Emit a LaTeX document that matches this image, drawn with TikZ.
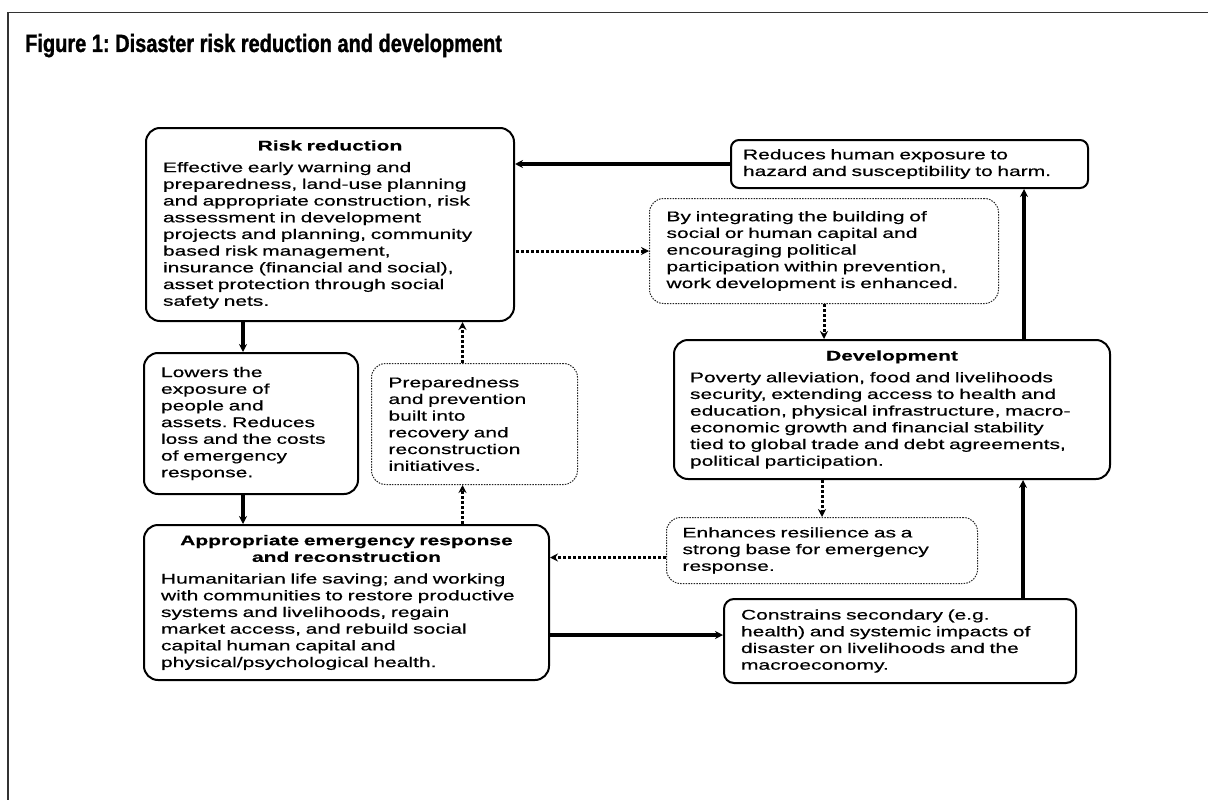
\documentclass[tikz,border=0pt]{standalone}
\usepackage{xcolor}
\usepackage{fontspec}
\usepackage{tikz}
\usetikzlibrary{arrows,arrows.meta}

\newfontfamily\titlefont[FakeStretch=0.8,FakeBold=1.2]{Liberation Sans}
\newfontfamily\boxfont[FakeStretch=1.5,FakeBold=0.5]{Liberation Sans}
\newcommand{\boxtext}{\boxfont\fontsize{14pt}{16.7pt}\selectfont}
\newcommand{\boxhead}[1]{\makebox[\linewidth]{\bfseries #1}}
\frenchspacing

\begin{document}
\begin{tikzpicture}[x=1pt,y=-1pt,>={Stealth[length=8pt,width=8pt]},
  box/.style={draw,line width=2pt,rounded corners=14pt,anchor=north west,
    inner xsep=17pt,inner ysep=0pt,align=left,font=\boxtext},
  dotbox/.style={box,line width=1pt,draw=black!85,dash pattern=on 1.5pt off 1.2pt},
  flow/.style={->,line width=3.2pt},
  dotflow/.style={->,line width=3pt,dash pattern=on 2.6pt off 2.4pt}]
  \useasboundingbox (0,0) rectangle (1208,800);
  \draw[line width=1.4pt,black!80] (1208,12.5) -- (8,12.5) -- (8,800);
  \node[anchor=base west,font=\titlefont\bfseries\fontsize{25pt}{30pt}\selectfont,inner sep=0pt] (title) at (25,52) {Figure 1: Disaster risk reduction and development};

  % left column
  \node[box,text width=334pt,minimum height=193pt] (risk) at (145,127)
    {\boxhead{Risk reduction}\\[5pt]
     Effective early warning and\\
     preparedness, land-use planning\\
     and appropriate construction, risk\\
     assessment in development\\
     projects and planning, community\\
     based risk management,\\
     insurance (financial and social),\\
     asset protection through social\\
     safety nets.};
  \node[box,text width=180pt,minimum height=141pt] (lowers) at (143,352)
    {Lowers the\\ exposure of\\ people and\\ assets. Reduces\\ loss and the costs\\ of emergency\\ response.};
  \node[dotbox,text width=172pt,minimum height=121pt] (prep) at (371,363)
    {Preparedness\\ and prevention\\ built into\\ recovery and\\ reconstruction\\ initiatives.};
  \node[box,text width=371pt,minimum height=155pt] (emerg) at (143,524)
    {\boxhead{Appropriate emergency response}\\
     \boxhead{and reconstruction}\\[5pt]
     Humanitarian life saving; and working\\
     with communities to restore productive\\
     systems and livelihoods, regain\\
     market access, and rebuild social\\
     capital human capital and\\
     physical/psychological health.};

  % right column
  \node[box,rounded corners=8pt,inner xsep=12pt,text width=333pt,minimum height=48pt] (reduce) at (730,139)
    {Reduces human exposure to\\ hazard and susceptibility to harm.};
  \node[dotbox,text width=315pt,minimum height=105pt] (integ) at (649,198)
    {By integrating the building of\\ social or human capital and\\ encouraging political\\ participation within prevention,\\ work development is enhanced.};
  \node[box,inner xsep=16pt,text width=404pt,minimum height=139pt] (dev) at (673,339)
    {\boxhead{Development}\\[5pt]
     Poverty alleviation, food and livelihoods\\
     security, extending access to health and\\
     education, physical infrastructure, macro-\\
     economic growth and financial stability\\
     tied to global trade and debt agreements,\\
     political participation.};
  \node[dotbox,inner xsep=16pt,text width=279pt,minimum height=66pt] (enh) at (666,517)
    {Enhances resilience as a\\ strong base for emergency\\ response.};
  \node[box,rounded corners=10pt,text width=318pt,minimum height=84pt] (cons) at (723,598)
    {Constrains secondary (e.g.\\ health) and systemic impacts of\\ disaster on livelihoods and the\\ macroeconomy.};

  % connectors
  \draw[flow] (reduce.west) -- (reduce.west -| risk.east);
  \draw[dotflow,<-] (integ.west) -- (integ.west -| risk.east);
  \draw[dotflow] (integ.south) -- (integ.south |- dev.north);
  \draw[flow] ([xshift=-87pt]dev.north east) -- ([xshift=-87pt]dev.north east |- reduce.south);
  \draw[dotflow] (enh.north |- dev.south) -- (enh.north);
  \draw[dotflow] ([yshift=-7pt]enh.west) -- ([yshift=-7pt]enh.west -| emerg.east);
  \draw[flow] ([xshift=-54pt]cons.north east) -- ([xshift=-54pt]cons.north east |- dev.south);
  \draw[flow] ([yshift=6pt]cons.west -| emerg.east) -- ([yshift=6pt]cons.west);
  \draw[flow] ([xshift=-8pt]lowers.north |- risk.south) -- ([xshift=-8pt]lowers.north);
  \draw[flow] ([xshift=-8pt]lowers.south) -- ([xshift=-8pt]lowers.south |- emerg.north);
  \draw[dotflow] ([xshift=-12pt]prep.south |- emerg.north) -- ([xshift=-12pt]prep.south);
  \draw[dotflow] ([xshift=-12pt]prep.north) -- ([xshift=-12pt]prep.north |- risk.south);
\end{tikzpicture}
\end{document}
